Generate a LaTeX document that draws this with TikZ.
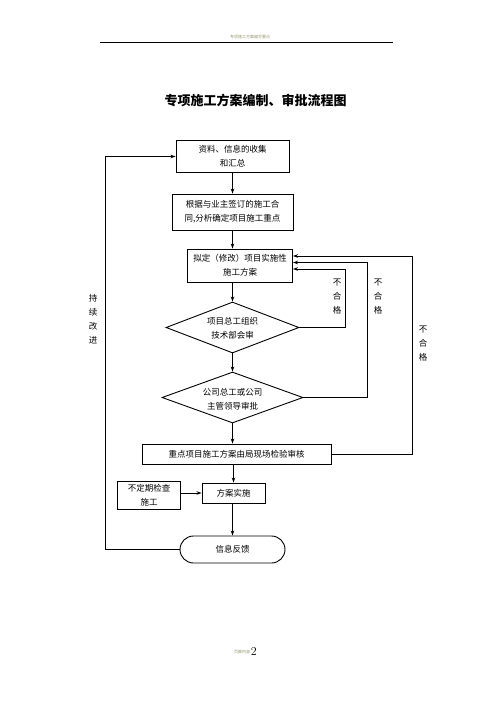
\documentclass[tikz,border=0pt]{standalone}
\usepackage{fontspec}
\newfontfamily\cjk{Noto Sans CJK SC}
\usetikzlibrary{shapes.geometric,arrows.meta}
\definecolor{pagegray}{RGB}{150,150,110}
\begin{document}
\begin{tikzpicture}[x=1pt,y=-1pt,line width=0.8pt,>={Stealth[length=5pt,width=3.5pt]},
  every node/.style={font=\cjk\fontsize{8.5}{14}\selectfont,align=center,inner sep=0pt},
  stepbox/.style={draw,line width=0.9pt,minimum width=#1},
  check/.style={draw,diamond,aspect=2.6,line width=0.9pt}]
  \fill[white] (0,0) rectangle (496,702);
  \useasboundingbox (0,0) rectangle (496,702);
  % page header and footer
  \draw[line width=1pt] (100,42) -- (393,42);
  \node[text=pagegray,font=\cjk\fontsize{4}{4}\selectfont] (head) at (250,37) {专项施工方案编写要点};
  \node[text=pagegray,font=\cjk\fontsize{4}{4}\selectfont] (foot) at (242,652) {页脚内容};
  \node[font=\fontsize{12}{12}\selectfont,anchor=west] (page) at (foot.east) {2};
  % title
  \node[font=\cjk\bfseries\fontsize{13}{13}\selectfont] (title) at (255.5,101) {专项施工方案编制、审批流程图};
  % steps
  \node[stepbox=113pt,minimum height=32pt] (b1) at (232.5,156.5) {资料、信息的收集\\和汇总};
  \node[stepbox=121pt,minimum height=36pt] (b2) at (232.5,212) {根据与业主签订的施工合\\同,分析确定项目施工重点};
  \node[stepbox=105pt,minimum height=33pt] (b3) at (240,265.5) {拟定（修改）项目实施性\\施工方案};
  \node[check,minimum width=133pt,minimum height=51pt] (d1) at (232.5,327.5) {};
  \node (t1) at (232.5,328) {项目总工组织\\技术部会审};
  \node[check,minimum width=141pt,minimum height=51pt] (d2) at (232.5,397.5) {};
  \node (t2) at (232.5,399) {公司总工或公司\\主管领导审批};
  \node[stepbox=189pt,minimum height=20pt] (b4) at (236.5,454) {重点项目施工方案由局现场检验审核};
  \node[stepbox=63pt,minimum height=20pt] (b5) at (233.5,493) {方案实施};
  \node[stepbox=63pt,minimum height=28pt] (b6) at (149,495) {不定期检查\\施工};
  \node[draw,line width=0.9pt,rounded corners=13.5pt,minimum width=105pt,minimum height=27pt] (b7) at (232.5,549.5) {信息反馈};
  % main flow
  \draw[->] (b1.south) -- (b1.south |- b2.north);
  \draw[->] (b2.south) -- (b2.south |- b3.north);
  \draw[->] (b3.south -| d1.north) -- (d1.north);
  \draw[->] (d1.south) -- (d2.north);
  \draw[->] (d2.south) -- (d2.south |- b4.north);
  \draw[->] (b4.south -| b5.north) -- (b5.north);
  \draw[->] (b5.south -| b7.north) -- (b7.north);
  \draw[->] (b6.east |- b5.west) -- (b5.west);
  % return loops
  \draw[->] (d1.east) -| (345,269) -- (b3.east |- 345,269);
  \draw[->] (d2.east) -| (367,262.5) -- (b3.east |- 367,262.5);
  \draw[->] (b4.east) -| (412,256) -- (b3.east |- 412,256);
  \draw[->] (b7.west) -| (105,156.5) -- (b1.west);
  % labels
  \foreach \x/\y in {337/283,378/283,423/330}
    \node (ng\x) at (\x,\y+14) {不\\合\\格};
  \node (keep) at (93,319) {持\\续\\改\\进};
\end{tikzpicture}
\end{document}
